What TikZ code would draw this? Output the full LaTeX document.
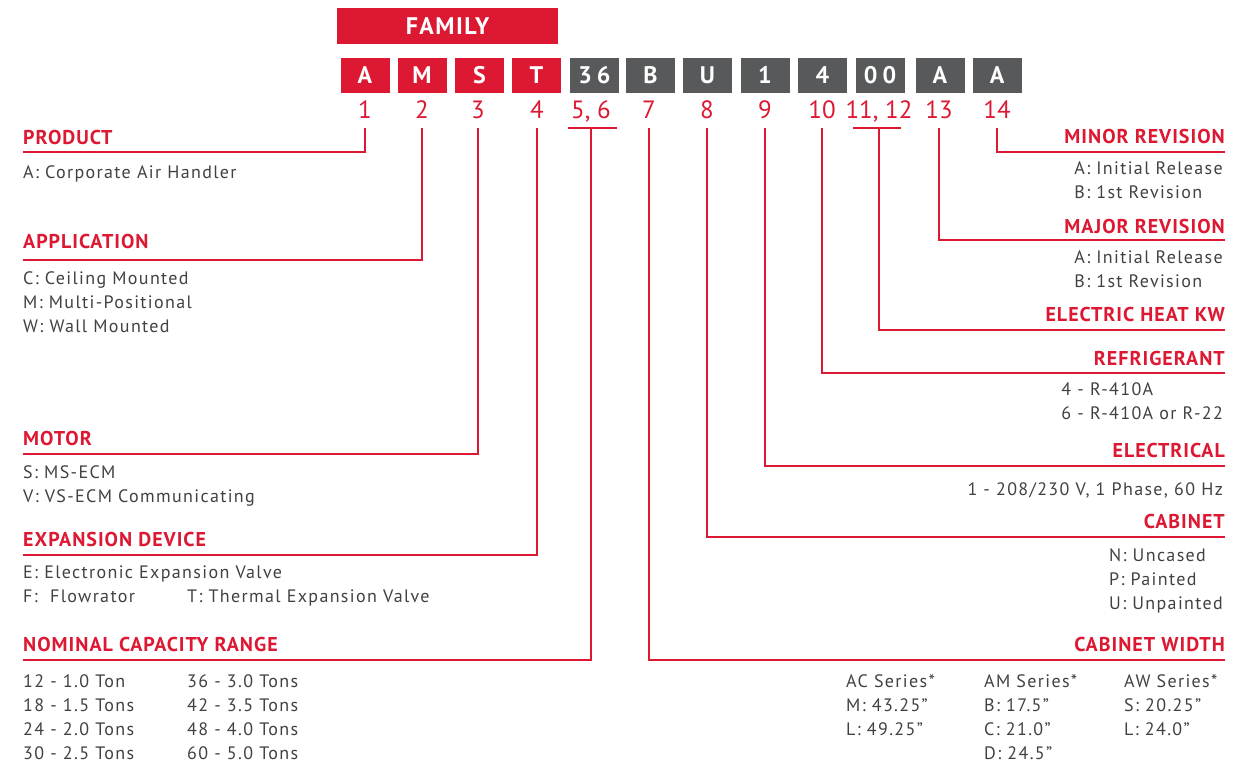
\documentclass[tikz,border=0pt]{standalone}
\usepackage{fontspec}
\setmainfont{PT Sans}
\definecolor{codered}{RGB}{220,24,50}
\definecolor{codegray}{RGB}{88,89,91}
\definecolor{txtgray}{RGB}{65,64,66}
\tikzset{
  conn/.style={draw=codered, line width=2pt},
  codebox/.style={minimum width=49pt, minimum height=35pt, inner sep=0pt, text=white, font=\fontsize{24}{24}\selectfont\bfseries\addfontfeature{LetterSpace=6}},
  redbox/.style={codebox, fill=codered},
  graybox/.style={codebox, fill=codegray},
  posnum/.style={text=codered, font=\fontsize{25}{25}\selectfont, anchor=base, inner sep=0pt},
  head/.style={text=codered, font=\fontsize{20}{20}\selectfont\bfseries\addfontfeature{LetterSpace=5}, inner sep=0pt},
  item/.style={text=txtgray, font=\fontsize{18}{24}\selectfont\addfontfeature{LetterSpace=7.5}, align=left, inner sep=0pt},
}
\begin{document}
\begin{tikzpicture}[x=1pt, y=-1pt]
\useasboundingbox (0,0) rectangle (1248,764);

% model number boxes
\node[redbox, minimum width=221pt, minimum height=36pt] (fam) at (447.5,26) {FAMILY};
\node[redbox] (b1) at (365,75) {A};
\node[redbox] (b2) at (422,75) {M};
\node[redbox] (b3) at (479.5,75) {S};
\node[redbox] (b4) at (536.5,75) {T};
\node[graybox] (b56) at (594.5,75) {3\kern5pt 6};
\node[graybox] (b7) at (650.5,75) {B};
\node[graybox] (b8) at (707.5,75) {U};
\node[graybox] (b9) at (765,75) {1};
\node[graybox] (b10) at (822.5,75) {4};
\node[graybox] (b1112) at (880,75) {0\kern5pt 0};
\node[graybox] (b13) at (940,75) {A};
\node[graybox] (b14) at (997,75) {A};

% digit positions
\node[posnum] (n1) at (365,118) {1};
\node[posnum] (n2) at (422,118) {2};
\node[posnum] (n3) at (478,118) {3};
\node[posnum] (n4) at (537,118) {4};
\node[posnum] (n56) at (591,118) {5, 6};
\node[posnum] (n7) at (649,118) {7};
\node[posnum] (n8) at (707,118) {8};
\node[posnum] (n9) at (765,118) {9};
\node[posnum] (n10) at (822,118) {10};
\node[posnum] (n1112) at (879,118) {11, 12};
\node[posnum] (n13) at (939,118) {13};
\node[posnum] (n14) at (997,118) {14};

% left side (item nodes sit on the baseline of their last line)
\coordinate (eProd) at (23,152);
\coordinate (eAppl) at (23,260);
\coordinate (eMotor) at (23,454);
\coordinate (eExp) at (23,555);
\coordinate (eCap) at (23,660);
\node[head, anchor=base west] (hProd) at (23,144) {PRODUCT};
\node[item, anchor=base west] (iProd) at (23,178) {A: Corporate Air Handler};
\node[head, anchor=base west] (hAppl) at (23,248) {APPLICATION};
\node[item, anchor=base west] (iAppl) at (23,332) {C: Ceiling Mounted\\M: Multi-Positional\\W: Wall Mounted};
\node[head, anchor=base west] (hMotor) at (23,445) {MOTOR};
\node[item, anchor=base west] (iMotor) at (23,502) {S: MS-ECM\\V: VS-ECM Communicating};
\node[head, anchor=base west] (hExp) at (23,546) {EXPANSION DEVICE};
\node[item, anchor=base west] (iExp) at (23,602) {E: Electronic Expansion Valve\\F:\ \ Flowrator};
\node[item, anchor=base west] (iExpT) at (187,602) {T: Thermal Expansion Valve};
\node[head, anchor=base west] (hCap) at (23,651) {NOMINAL CAPACITY RANGE};
\node[item, anchor=base west] (iCapA) at (23,759) {12 - 1.0 Ton\\18 - 1.5 Tons\\24 - 2.0 Tons\\30 - 2.5 Tons};
\node[item, anchor=base west] (iCapB) at (187,759) {36 - 3.0 Tons\\42 - 3.5 Tons\\48 - 4.0 Tons\\60 - 5.0 Tons};

% right side
\coordinate (eMinor) at (1225,152);
\coordinate (eMajor) at (1225,240);
\coordinate (eHeat) at (1225,330);
\coordinate (eRefr) at (1225,373);
\coordinate (eElec) at (1225,466);
\coordinate (eCab) at (1225,537);
\coordinate (eWidth) at (1225,660);
\node[head, anchor=base east] (hMinor) at (1225,143) {MINOR REVISION};
\node[item, anchor=base east] (iMinor) at (1223,198) {A: Initial Release\\B: 1st Revision};
\node[head, anchor=base east] (hMajor) at (1225,233) {MAJOR REVISION};
\node[item, anchor=base east] (iMajor) at (1223,287) {A: Initial Release\\B: 1st Revision};
\node[head, anchor=base east] (hHeat) at (1225,321) {ELECTRIC HEAT KW};
\node[head, anchor=base east] (hRefr) at (1225,365) {REFRIGERANT};
\node[item, anchor=base east] (iRefr) at (1223,419) {4 - R-410A\\6 - R-410A or R-22};
\node[head, anchor=base east] (hElec) at (1225,457) {ELECTRICAL};
\node[item, anchor=base east] (iElec) at (1223,495) {1 - 208/230 V, 1 Phase, 60 Hz};
\node[head, anchor=base east] (hCab) at (1225,528) {CABINET};
\node[item, anchor=base east] (iCab) at (1223,609) {N: Uncased\\P: Painted\\U: Unpainted};
\node[head, anchor=base east] (hWidth) at (1225,651) {CABINET WIDTH};
\node[item, anchor=base west] (iAC) at (846,735) {AC Series*\\M: 43.25”\\L: 49.25”};
\node[item, anchor=base west] (iAM) at (984,759) {AM Series*\\B: 17.5”\\C: 21.0”\\D: 24.5”};
\node[item, anchor=base west] (iAW) at (1124,735) {AW Series*\\S: 20.25”\\L: 24.0”};

% connectors
\draw[conn] ([yshift=-10pt]n1.base) |- (eProd);
\draw[conn] ([yshift=-10pt]n2.base) |- (eAppl);
\draw[conn] ([yshift=-10pt]n3.base) |- (eMotor);
\draw[conn] ([yshift=-10pt]n4.base) |- (eExp);
\draw[conn] ([xshift=-23pt,yshift=-10pt]n56.base) -- ([xshift=26pt,yshift=-10pt]n56.base);
\draw[conn] ([yshift=-10pt]n56.base) |- (eCap);
\draw[conn] ([yshift=-10pt]n7.base) |- (eWidth);
\draw[conn] ([yshift=-10pt]n8.base) |- (eCab);
\draw[conn] ([yshift=-10pt]n9.base) |- (eElec);
\draw[conn] ([yshift=-10pt]n10.base) |- (eRefr);
\draw[conn] ([xshift=-26pt,yshift=-10pt]n1112.base) -- ([xshift=22pt,yshift=-10pt]n1112.base);
\draw[conn] ([yshift=-10pt]n1112.base) |- (eHeat);
\draw[conn] ([yshift=-10pt]n13.base) |- (eMajor);
\draw[conn] ([yshift=-10pt]n14.base) |- (eMinor);
\end{tikzpicture}
\end{document}
